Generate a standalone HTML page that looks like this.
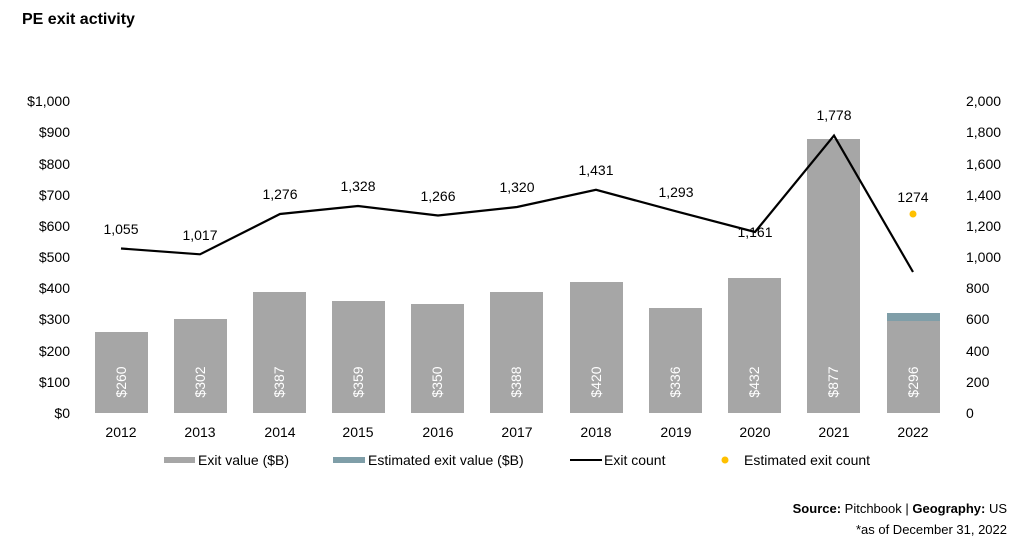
<!DOCTYPE html>
<html><head><style>
body{margin:0;background:#fff;}
svg{display:block;font-family:"Liberation Sans",Arial,sans-serif;}
</style></head><body>
<svg width="1024" height="556" xmlns="http://www.w3.org/2000/svg">
<text x="22" y="24" font-size="16" font-weight="bold" fill="#000">PE exit activity</text>
<g font-size="14" fill="#000" text-anchor="end">
<text x="70" y="418">$0</text><text x="70" y="387">$100</text><text x="70" y="356">$200</text><text x="70" y="324">$300</text><text x="70" y="293">$400</text><text x="70" y="262">$500</text><text x="70" y="231">$600</text><text x="70" y="200">$700</text><text x="70" y="169">$800</text><text x="70" y="137">$900</text><text x="70" y="106">$1,000</text>
</g>
<g font-size="14" fill="#000" text-anchor="start">
<text x="966" y="418">0</text><text x="966" y="387">200</text><text x="966" y="356">400</text><text x="966" y="324">600</text><text x="966" y="293">800</text><text x="966" y="262">1,000</text><text x="966" y="231">1,200</text><text x="966" y="200">1,400</text><text x="966" y="169">1,600</text><text x="966" y="137">1,800</text><text x="966" y="106">2,000</text>
</g>
<g fill="#a6a6a6">
<rect x="95" y="332" width="53" height="81"/>
<rect x="174" y="319" width="53" height="94"/>
<rect x="253" y="292" width="53" height="121"/>
<rect x="332" y="301" width="53" height="112"/>
<rect x="411" y="304" width="53" height="109"/>
<rect x="490" y="292" width="53" height="121"/>
<rect x="570" y="282" width="53" height="131"/>
<rect x="649" y="308" width="53" height="105"/>
<rect x="728" y="278" width="53" height="135"/>
<rect x="807" y="139" width="53" height="274"/>
<rect x="887" y="321" width="53" height="92"/>
</g>
<rect x="887" y="313" width="53" height="8" fill="#7f9ea8"/>
<g font-size="14" fill="#fff" text-anchor="middle">
<text transform="translate(126,382) rotate(-90)">$260</text>
<text transform="translate(205,382) rotate(-90)">$302</text>
<text transform="translate(284,382) rotate(-90)">$387</text>
<text transform="translate(363,382) rotate(-90)">$359</text>
<text transform="translate(442,382) rotate(-90)">$350</text>
<text transform="translate(521,382) rotate(-90)">$388</text>
<text transform="translate(601,382) rotate(-90)">$420</text>
<text transform="translate(680,382) rotate(-90)">$336</text>
<text transform="translate(759,382) rotate(-90)">$432</text>
<text transform="translate(838,382) rotate(-90)">$877</text>
<text transform="translate(918,382) rotate(-90)">$296</text>
</g>
<polyline fill="none" stroke="#000" stroke-width="2.2" points="121,248.5 200,254.3 280,214 358,206 438,215.5 517,207 596,189.8 676,211.3 755,232 834,135.6 913,272"/>
<circle cx="913" cy="214" r="3.5" fill="#ffc000"/>
<g font-size="14" fill="#000" text-anchor="middle">
<text x="121" y="234">1,055</text><text x="200" y="240">1,017</text><text x="280" y="199">1,276</text><text x="358" y="191">1,328</text><text x="438" y="201">1,266</text><text x="517" y="192">1,320</text><text x="596" y="175">1,431</text><text x="676" y="197">1,293</text><text x="755" y="237">1,161</text><text x="834" y="120">1,778</text><text x="913" y="202">1274</text>
</g>
<g font-size="14" fill="#000" text-anchor="middle">
<text x="121" y="437">2012</text><text x="200" y="437">2013</text><text x="280" y="437">2014</text><text x="358" y="437">2015</text><text x="438" y="437">2016</text><text x="517" y="437">2017</text><text x="596" y="437">2018</text><text x="676" y="437">2019</text><text x="755" y="437">2020</text><text x="834" y="437">2021</text><text x="913" y="437">2022</text>
</g>
<g font-size="14" fill="#000">
<rect x="164" y="457" width="31" height="6" fill="#a6a6a6"/><text x="198" y="465">Exit value ($B)</text>
<rect x="333" y="457" width="32" height="6" fill="#7f9ea8"/><text x="368" y="465">Estimated exit value ($B)</text>
<line x1="570" y1="460" x2="602" y2="460" stroke="#000" stroke-width="2"/><text x="604" y="465">Exit count</text>
<circle cx="725" cy="460" r="3.5" fill="#ffc000"/><text x="744" y="465">Estimated exit count</text>
</g>
<g font-size="13" fill="#000" text-anchor="end">
<text x="1007" y="513"><tspan font-weight="bold">Source:</tspan> Pitchbook | <tspan font-weight="bold">Geography:</tspan> US</text>
<text x="1007" y="534">*as of December 31, 2022</text>
</g>
</svg>
</body></html>
